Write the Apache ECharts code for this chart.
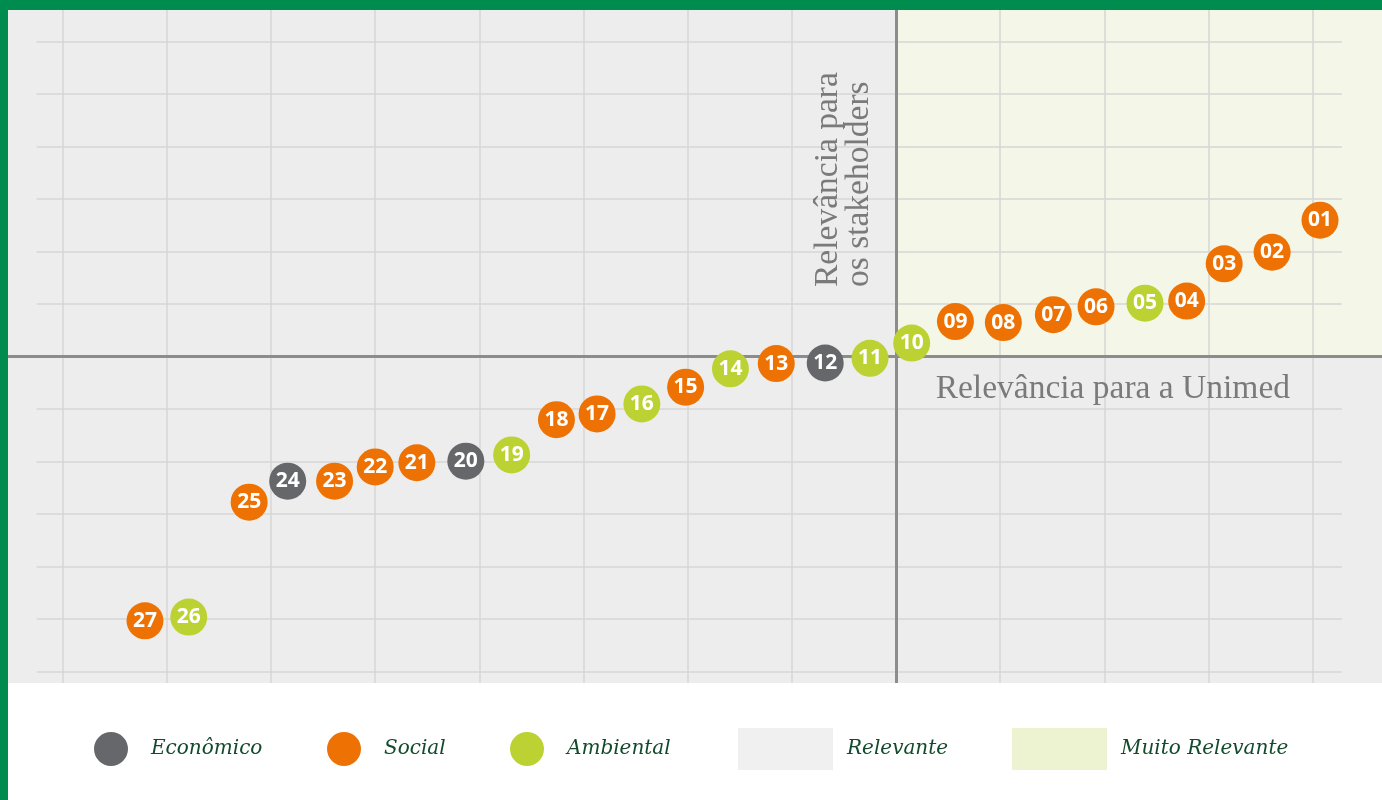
<!DOCTYPE html>
<html>
<head>
<meta charset="utf-8">
<script src="https://cdn.jsdelivr.net/npm/echarts@6/dist/echarts.min.js"></script>
<style>
html,body{margin:0;padding:0;background:#fff;}
#chart{width:1382px;height:800px;}
</style>
</head>
<body>
<div id="chart"></div>
<script>
// ---- data ----
const ids   = ['01','02','03','04','05','06','07','08','09','10','11','12','13','14','15','16','17','18','19','20','21','22','23','24','25','26','27'];
const xVals = [12.07,11.61,11.15,10.79,10.39,9.92,9.51,9.03,8.57,8.15,7.75,7.32,6.85,6.41,5.98,5.56,5.13,4.74,4.31,3.87,3.40,3.00,2.61,2.16,1.79,1.21,0.79];
const yVals = [8.60,7.99,7.77,7.06,7.02,6.95,6.80,6.65,6.67,6.26,5.97,5.88,5.87,5.77,5.42,5.10,4.91,4.80,4.13,4.01,3.98,3.90,3.63,3.63,3.23,1.04,0.97];
const cats  = ['S','S','S','S','A','S','S','S','S','A','A','E','S','A','S','A','S','S','A','E','S','S','S','E','S','A','S'];
const seriesNames = {E:'Econômico', S:'Social', A:'Ambiental'};
const seriesColors = {E:'#66676B', S:'#EE7203', A:'#BCD233'};
const areaNames = ['Relevante','Muito Relevante'];
const xTicks = [0,1,2,3,4,5,6,7,9,10,11,12];
const yTicks = [0,1,2,3,4,5,7,8,9,10,11,12];
const xCenter = 8, yCenter = 6;
const xMin = -0.525, xMax = 12.665, yMin = -0.215, yMax = 12.604;
const hLineStart = -0.25, hLineEnd = 12.28;

const chart = echarts.init(document.getElementById('chart'), null, {renderer:'canvas'});

function pointsFor(c){
  const out=[];
  for(let i=0;i<ids.length;i++) if(cats[i]===c) out.push({value:[xVals[i],yVals[i]], name:ids[i]});
  return out;
}

const lightLine = {color:'#D6D6D6', width:1.5, type:'solid'};
const darkLine = {color:'#8C8C8C', width:3, type:'solid'};

const markLines = [];
xTicks.forEach(v=>markLines.push({xAxis:v, lineStyle:lightLine}));
yTicks.forEach(v=>markLines.push([{coord:[hLineStart,v], lineStyle:lightLine},{coord:[hLineEnd,v]}]));
markLines.push({xAxis:xCenter, lineStyle:darkLine});
markLines.push({yAxis:yCenter, lineStyle:darkLine});

const legendFont = {fontFamily:'DejaVu Serif', fontStyle:'italic', fontSize:20, color:'#124A2B'};

const series = [
  {
    name:'Relevante', type:'scatter', data:[], itemStyle:{color:'#ECECEC'}, z:1, silent:true
  },
  {
    name:'Muito Relevante', type:'scatter', data:[], itemStyle:{color:'#E8F0C4'}, z:1, silent:true,
    markArea:{silent:true, itemStyle:{color:'#F4F7E7'}, data:[[{coord:[xCenter,yCenter]},{coord:[xMax,yMax]}]]},
    markLine:{silent:true, symbol:'none', label:{show:false}, data:markLines, animation:false}
  }
];
['E','S','A'].forEach(c=>{
  series.push({
    name:seriesNames[c], type:'scatter', symbol:'circle', symbolSize:37, z:5,
    itemStyle:{color:seriesColors[c], opacity:1},
    label:{show:true, position:'inside', formatter:p=>p.name, color:'#fff', fontFamily:'Open Sans', fontWeight:'bold', fontSize:21},
    data:pointsFor(c)
  });
});

function legendItem(name, left, icon, w, h, pad){
  return {data:[name], left:left, top:749-h/2, icon:icon, itemWidth:w, itemHeight:h, padding:0,
    selectedMode:false, textStyle:Object.assign({}, legendFont, {padding:[4,0,0,pad]})};
}

chart.setOption({
  animation:false,
  backgroundColor:'#ffffff',
  grid:{left:8, right:0, top:10, bottom:117, show:true, backgroundColor:'#EDEDED', borderWidth:0},
  xAxis:{type:'value', min:xMin, max:xMax, show:false},
  yAxis:{type:'value', min:yMin, max:yMax, show:false},
  legend:[
    legendItem('Econômico', 94, 'circle', 34, 34, 18),
    legendItem('Social', 327, 'circle', 34, 34, 18),
    legendItem('Ambiental', 510, 'circle', 34, 34, 18),
    legendItem('Relevante', 738, 'rect', 95, 42, 9),
    legendItem('Muito Relevante', 1012, 'rect', 95, 42, 9)
  ],
  graphic:[
    {type:'rect', left:0, top:0, shape:{width:1382, height:10}, style:{fill:'#008C4F'}, z:100},
    {type:'rect', left:0, top:0, shape:{width:8, height:800}, style:{fill:'#008C4F'}, z:100},
    {type:'text', x:1290, y:389, z:50, style:{text:'Relevância para a Unimed', align:'right', verticalAlign:'middle', fontFamily:'Liberation Serif', fontSize:33.5, fill:'#7A7A7A'}},
    {type:'text', x:828, y:287, rotation:Math.PI/2, z:50, style:{text:'Relevância para', align:'left', verticalAlign:'middle', fontFamily:'Liberation Serif', fontSize:33.5, fill:'#7A7A7A'}},
    {type:'text', x:859, y:287, rotation:Math.PI/2, z:50, style:{text:'os stakeholders', align:'left', verticalAlign:'middle', fontFamily:'Liberation Serif', fontSize:33.5, fill:'#7A7A7A'}}
  ],
  series:series
});
</script>
</body>
</html>
